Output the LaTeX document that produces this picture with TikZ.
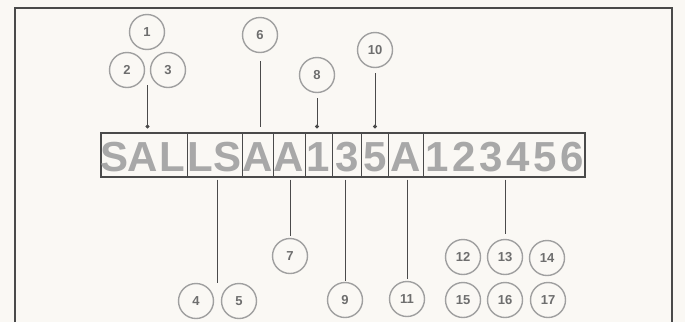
\documentclass[tikz,border=0pt]{standalone}
\usepackage{fontspec}
\setmainfont{Liberation Sans}
\usetikzlibrary{arrows.meta,calc}
\definecolor{cInk}{HTML}{4A4A4A}
\definecolor{cRing}{HTML}{A0A0A0}
\definecolor{cGlyph}{HTML}{A8A8A8}
\definecolor{cPaper}{HTML}{FAF8F4}
\tikzset{
  ring/.style={circle,draw=cRing,line width=1.4pt,minimum size=35pt,inner sep=0pt,
               font=\fontsize{13}{13}\selectfont\bfseries,text=cInk!80},
  glyph/.style={font=\fontsize{42}{42}\selectfont\bfseries,text=cGlyph,inner sep=0pt,anchor=base},
  lead/.style={cInk,line width=0.8pt},
  leaddot/.style={lead,-{Circle[length=4pt]}},
  sep/.style={cInk,line width=1pt},
  thinsep/.style={cInk,line width=0.5pt},
}

\begin{document}
\begin{tikzpicture}[x=1pt,y=-1pt]
\fill[cPaper] (0,0) rectangle (685,322);
\useasboundingbox (0,0) rectangle (685,322);
\draw[cInk,line width=1.6pt] (15,322) -- (15,8) -- (672,8) -- (672,322);

% code strip
\node[draw=cInk,line width=1.1pt,minimum width=484pt,minimum height=44pt,inner sep=0pt] (code) at (343,155) {};
\foreach \ch/\x in {S/115,A/143,L/172,L/200,S/228,A/258,A/289,1/318,3/347,5/375,A/406,
                    1/437,2/464,3/491,4/518,5/545,6/572}
  \node[glyph] at (\x,171) {\ch};
\foreach \x in {242,305,332,388,423} \draw[sep] (\x,133) -- (\x,177);
\foreach \x in {187,273,361} \draw[thinsep] (\x,133) -- (\x,177);

% callouts above
\node[ring] (c1) at (147,32) {1};
\node[ring] (c2) at (127,70) {2};
\node[ring] (c3) at (168,70) {3};
\node[ring] (c6) at (260,35) {6};
\node[ring] (c8) at (317,75) {8};
\node[ring] (c10) at (375,50) {10};

% callouts below
\node[ring] (c4) at (196,301) {4};
\node[ring] (c5) at (239,301) {5};
\node[ring] (c7) at (290,256) {7};
\node[ring] (c9) at (345,300) {9};
\node[ring] (c11) at (407,299) {11};
\node[ring] (c12) at (463,257) {12};
\node[ring] (c13) at (505,257) {13};
\node[ring] (c14) at (547,258) {14};
\node[ring] (c15) at (463,300) {15};
\node[ring] (c16) at (505,300) {16};
\node[ring] (c17) at (548,300) {17};

\coordinate (j23) at ([yshift=-15pt]$(c2)!0.5!(c3)$);
\coordinate (j45) at ($(c4.north)!0.5!(c5.north)$);

\draw[leaddot,shorten >=4pt] (j23) -- (j23 |- code.north);
\draw[lead,shorten <=8pt,shorten >=5pt] (c6.south) -- (c6.south |- code.north);
\draw[leaddot,shorten <=5pt,shorten >=4pt] (c8.south) -- (c8.south |- code.north);
\draw[leaddot,shorten <=5pt,shorten >=4pt] (c10.south) -- (c10.south |- code.north);

\draw[lead,shorten <=2pt] (j45 |- code.south) -- (j45);
\draw[lead,shorten <=2pt,shorten >=2pt] (c7.north |- code.south) -- (c7.north);
\draw[lead,shorten <=2pt,shorten >=1pt] (c9.north |- code.south) -- (c9.north);
\draw[lead,shorten <=2pt,shorten >=2pt] (c11.north |- code.south) -- (c11.north);
\draw[lead,shorten <=2pt,shorten >=5pt] (c13.north |- code.south) -- (c13.north);
\end{tikzpicture}
\end{document}
